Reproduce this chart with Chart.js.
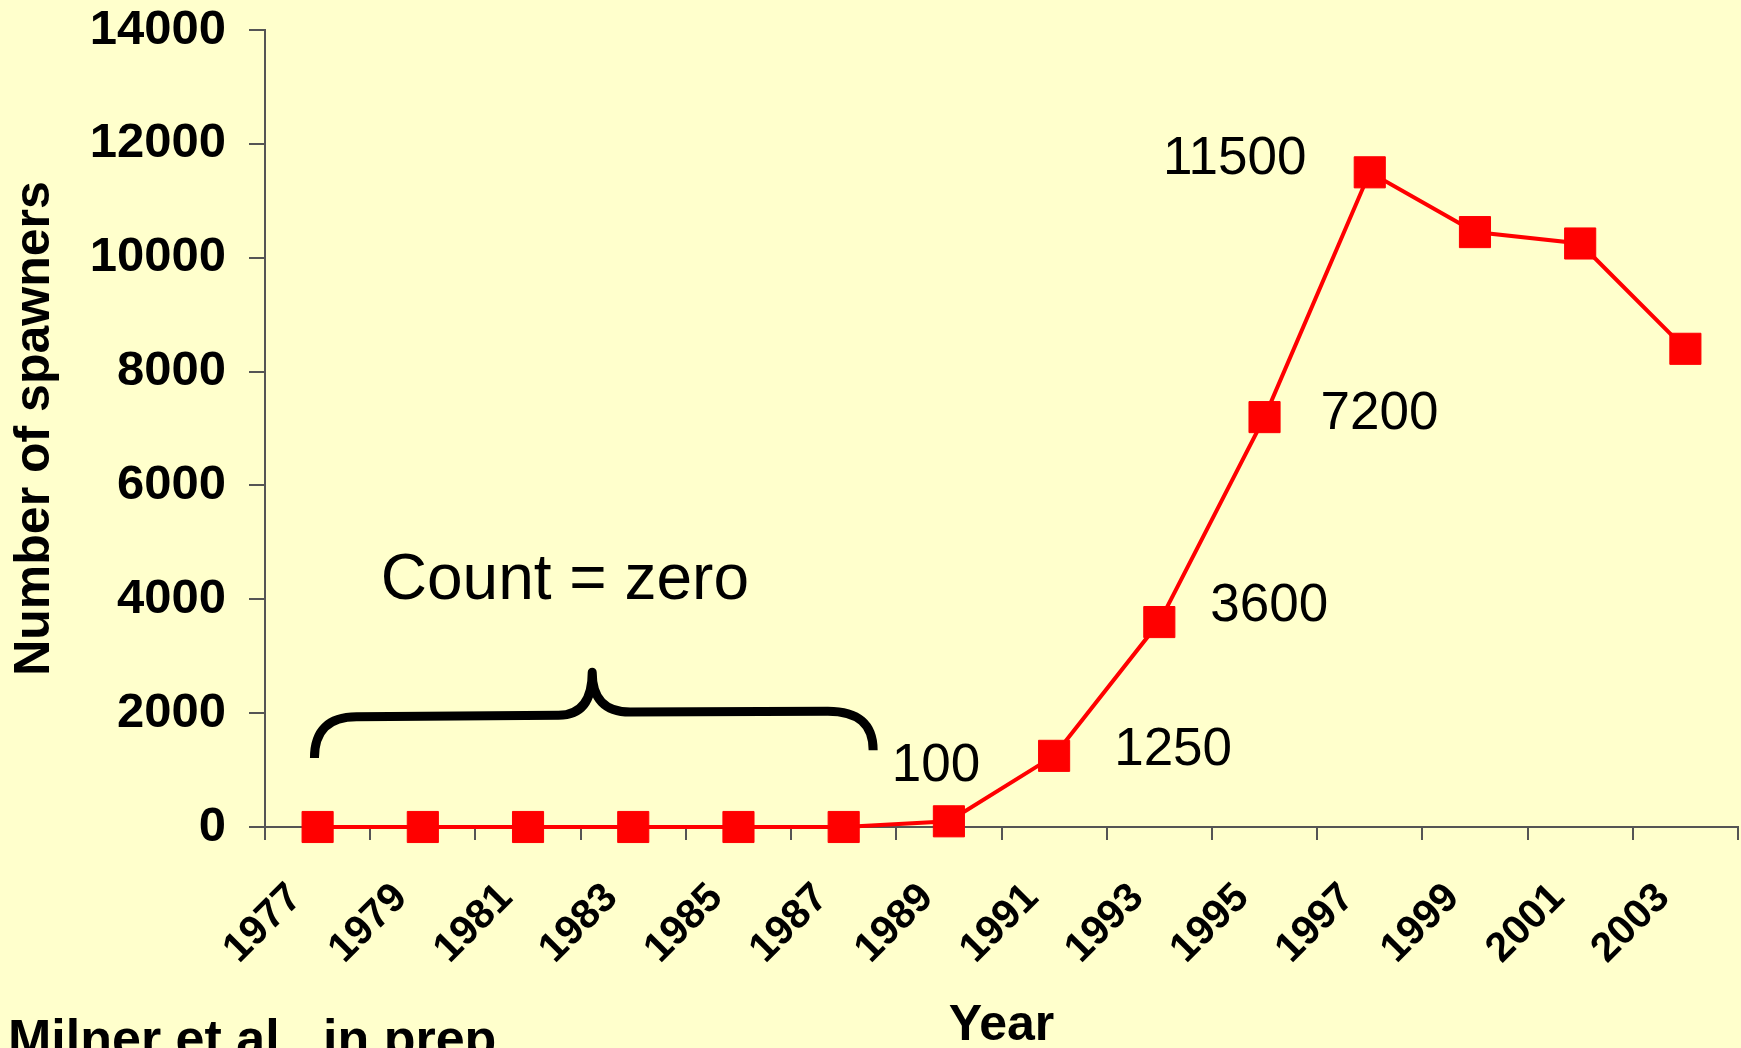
<!DOCTYPE html>
<html>
<head>
<meta charset="utf-8">
<script src="https://cdn.jsdelivr.net/npm/chart.js@4.4.1/dist/chart.umd.min.js"></script>
<style>
    html, body { margin: 0; padding: 0; background: #ffffcc; }
    #wrap { width: 1741px; height: 1048px; position: relative; }
</style>
</head>
<body>
<div id="wrap"><canvas id="spawners"></canvas></div>
<script>
// Data
const years = ['1977', '1979', '1981', '1983', '1985', '1987', '1989',
               '1991', '1993', '1995', '1997', '1999', '2001', '2003'];
const spawners = [0, 0, 0, 0, 0, 0, 100, 1250, 3600, 7200, 11500, 10450, 10250, 8400];
const yTicks = [0, 2000, 4000, 6000, 8000, 10000, 12000, 14000];

// which points get a value label, and where the label sits (px from the point)
const labelled = [6, 7, 8, 9, 10];
const labelShift = [[-13, -55], [119, -5], [110, -16], [115, -3], [-135, -13]];

// brace over the zero years, in (category index, value) units
const braceX = [-0.03, 0.37, 2.29, 2.61, 2.97, 4.85, 5.28];
const braceY = [1210, 1935, 1965, 2720, 2020, 2035, 1350];
const braceText = 'Count = zero';
const braceTextAt = [2.35, 4320];

const source = 'Milner et al., in prep.';

const FONT = "'Liberation Sans', Arial, sans-serif";
const AXIS = '#555555';

const background = {
    id: 'background',
    beforeDraw(chart) {
        const ctx = chart.ctx;
        ctx.save();
        ctx.fillStyle = '#ffffcc';
        ctx.fillRect(0, 0, chart.width, chart.height);
        ctx.restore();
    }
};

const notes = {
    id: 'notes',
    afterDatasetsDraw(chart) {
        const ctx = chart.ctx;
        const x = chart.scales.x, y = chart.scales.y;
        const meta = chart.getDatasetMeta(0);
        ctx.save();

        // value labels
        ctx.fillStyle = '#000';
        ctx.font = '53px ' + FONT;
        ctx.textAlign = 'center';
        ctx.textBaseline = 'middle';
        labelled.forEach((idx, k) => {
            const pt = meta.data[idx];
            ctx.fillText(String(spawners[idx]), pt.x + labelShift[k][0], pt.y + labelShift[k][1]);
        });

        // brace
        const px = braceX.map(v => x.getPixelForValue(v));
        const py = braceY.map(v => y.getPixelForValue(v));
        ctx.strokeStyle = '#000';
        ctx.lineWidth = 9;
        ctx.lineCap = 'butt';
        ctx.lineJoin = 'round';
        ctx.beginPath();
        ctx.moveTo(px[0], py[0]);
        ctx.quadraticCurveTo(px[0], py[1], px[1], py[1]);
        ctx.lineTo(px[2], py[2]);
        ctx.quadraticCurveTo(px[3], py[2], px[3], py[3]);
        ctx.quadraticCurveTo(px[3], py[4], px[4], py[4]);
        ctx.lineTo(px[5], py[5]);
        ctx.quadraticCurveTo(px[6], py[5], px[6], py[6]);
        ctx.stroke();

        ctx.font = '64px ' + FONT;
        ctx.fillText(braceText, x.getPixelForValue(braceTextAt[0]), y.getPixelForValue(braceTextAt[1]));

        // source note, bottom left
        ctx.font = 'bold 52px ' + FONT;
        ctx.textAlign = 'left';
        ctx.textBaseline = 'alphabetic';
        ctx.fillText(source, 8, 1056);
        ctx.restore();
    }
};

// keep the plot box where the original has it
function noEdgePadding(scale) {
    scale.paddingTop = 0;
    scale.paddingBottom = 0;
    scale.paddingLeft = 0;
    scale.paddingRight = 0;
}

const data = {
    labels: years,
    datasets: [{
        label: 'Spawners',
        data: spawners,
        borderColor: '#ff0000',
        backgroundColor: '#ff0000',
        borderWidth: 4,
        pointStyle: 'rect',
        pointRadius: 22,
        pointHoverRadius: 22,
        pointBorderWidth: 1,
        pointBackgroundColor: '#ff0000',
        pointBorderColor: '#ff0000',
        tension: 0,
        clip: false
    }]
};

const config = {
    type: 'line',
    data: data,
    options: {
        responsive: true,
        maintainAspectRatio: false,
        animation: false,
        layout: { autoPadding: false, padding: { top: 30, right: 3, left: 0, bottom: 0 } },
        plugins: {
            legend: { display: false },
            tooltip: { enabled: false }
        },
        scales: {
            x: {
                type: 'category',
                offset: true,
                grid: {
                    offset: true,
                    drawOnChartArea: false,
                    drawTicks: true,
                    tickLength: 13,
                    color: AXIS,
                    lineWidth: 2
                },
                border: { display: true, color: AXIS, width: 2 },
                ticks: {
                    autoSkip: false,
                    maxRotation: 45,
                    minRotation: 45,
                    padding: 34,
                    labelOffset: -22,
                    color: '#000',
                    font: { family: FONT, size: 41, weight: 'bold' }
                },
                title: {
                    display: true,
                    text: 'Year',
                    color: '#000',
                    font: { family: FONT, size: 50, weight: 'bold' },
                    padding: { top: 0, bottom: -8 }
                },
                afterFit(scale) {
                    scale.height = 221;
                    noEdgePadding(scale);
                }
            },
            y: {
                min: 0,
                max: 14000,
                afterBuildTicks(scale) { scale.ticks = yTicks.map(v => ({ value: v })); },
                grid: {
                    drawOnChartArea: false,
                    drawTicks: true,
                    tickLength: 16,
                    color: AXIS,
                    lineWidth: 2
                },
                border: { display: true, color: AXIS, width: 2 },
                ticks: {
                    padding: 23,
                    color: '#000',
                    font: { family: FONT, size: 49, weight: 'bold' },
                    callback: v => String(v)
                },
                title: {
                    display: true,
                    text: 'Number of spawners',
                    color: '#000',
                    font: { family: FONT, size: 50, weight: 'bold' },
                    padding: { top: 5, bottom: 0 }
                },
                afterFit(scale) {
                    scale.width = 265;
                    noEdgePadding(scale);
                }
            }
        }
    },
    plugins: [background, notes]
};

const chartSpawners = new Chart(document.getElementById('spawners'), config);
</script>
</body>
</html>
